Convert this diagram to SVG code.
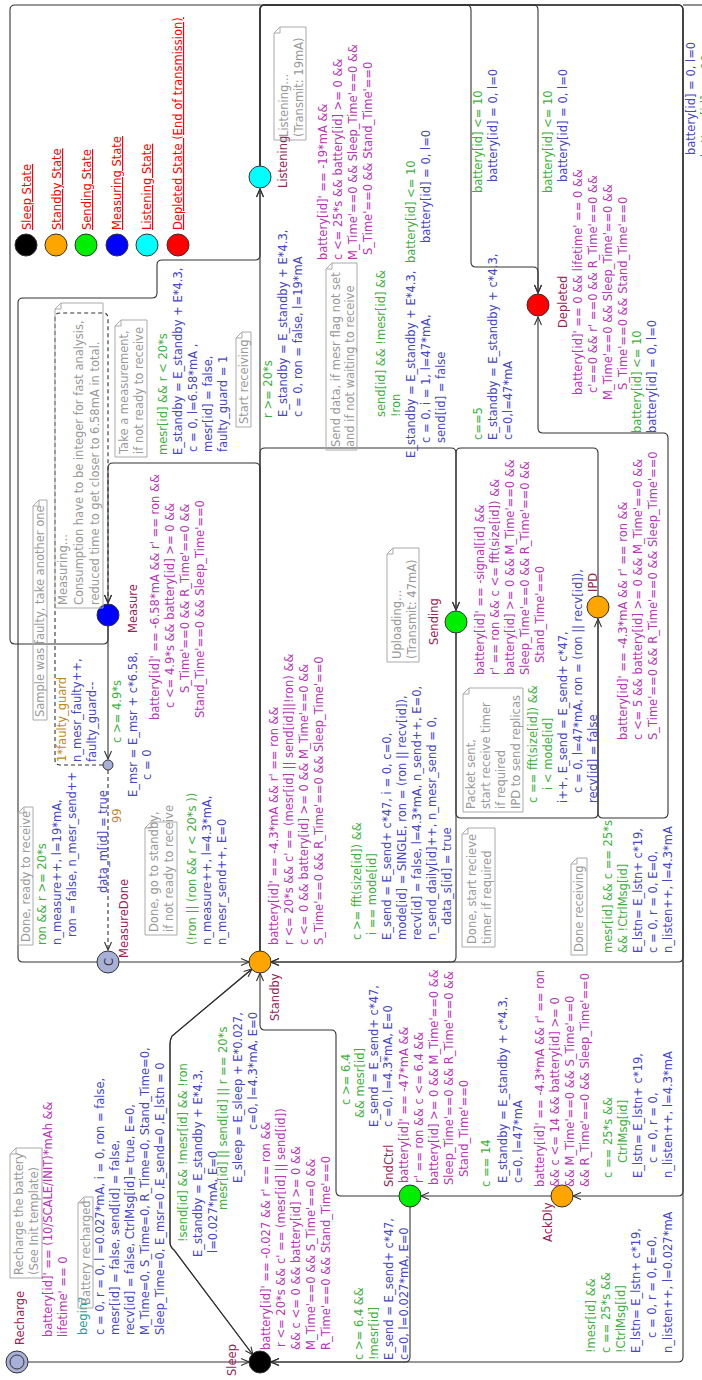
<svg xmlns="http://www.w3.org/2000/svg" width="702" height="1380" viewBox="0 0 702 1380">
<style>
text { font-family: "DejaVu Sans", sans-serif; font-size: 11.5px; }
.n { fill: #992255; }
.i { fill: #b835b8; }
.g { fill: #3cb03c; }
.u { fill: #4646c8; }
.s { fill: #22a0a0; }
.p { fill: #c08a20; }
.c { fill: #999999; }
.lg { fill: #ff0000; text-decoration: underline; }
.cb { fill: none; stroke: #aaaaaa; stroke-width: 1; }
.e { fill: none; stroke: #333333; stroke-width: 1.1; marker-end: url(#arr); }
.d { stroke-dasharray: 4 3; }
.loc { stroke: #333333; stroke-width: 1; }
</style>
<defs>
<marker id="arr" viewBox="0 0 10 10" refX="9" refY="5" markerWidth="10" markerHeight="10" markerUnits="userSpaceOnUse" orient="auto">
<path d="M1,1.5 L9,5 L1,8.5" fill="none" stroke="#333333" stroke-width="1.1"/>
</marker>
</defs>
<rect x="0" y="0" width="702" height="1380" fill="#ffffff"/>
<g transform="translate(0,1380) rotate(-90)">

<g id="connectors">
<path class="e" d="M18,28 L18,249"/>
<path class="e" d="M411,252 L344,172 Q340,170 336,170 L138,170 Q133,170 130,174 L25,253"/>
<path class="e" d="M25,253 L130,174 Q133,170 138,170 L336,170 Q340,170 344,172 L411,252"/>
<path class="e" d="M173,410 L23,410 Q18,410 18,405 L18,271"/>
<path class="e" d="M1214,260 L1370,260 Q1375,260 1375,265 L1375,678 Q1375,683 1370,683 L23,683 Q18,683 18,678 L18,271"/>
<path class="e" d="M1214,260 L1370,260 Q1375,260 1375,265 L1375,678 Q1375,683 1370,683 L189,683 Q184,683 184,678 L184,573"/>
<path class="e" d="M1214,260 L1370,260 Q1375,260 1375,265 L1375,678 Q1375,683 1370,683 L423,683 Q418,683 418,678 L418,271"/>
<path class="e" d="M1214,260 L1370,260 Q1375,260 1375,265 L1375,466 Q1375,471 1370,471 L1118,471 Q1113,471 1113,476 L1113,533 Q1113,538 1108,538 L1087,538"/>
<path class="e" d="M754,108 L741,108 Q736,108 736,103 L736,15 Q736,10 741,10 L1370,10 Q1375,10 1375,15 L1375,533 Q1375,538 1370,538 L1087,538"/>
<path fill="none" stroke="#333333" stroke-width="1.1" d="M1375,683 L1375,702"/>
<path class="e" d="M762,598 L567,598 Q562,598 562,603 L562,663 Q562,668 567,668 L942,668 Q947,668 947,663 L947,543 Q947,538 952,538 L1063,538"/>
<path class="e" d="M747,456 L567,456 Q562,456 562,461 L562,593 Q562,598 567,598 L761,598"/>
<path class="e" d="M747,456 L423,456 Q418,456 418,451 L418,271"/>
<path class="e" d="M784,598 L927,598 Q932,598 932,593 L932,461 Q932,456 927,456 L770,456"/>
<path class="e" d="M429,260 L927,260 Q932,260 932,265 L932,451 Q932,456 927,456 L770,456"/>
<path class="e" d="M429,260 L912,260 Q917,260 917,255 L917,113 Q917,108 912,108 L777,108"/>
<path class="e" d="M429,260 L1191,260"/>
<path class="e" d="M418,97 L418,23 Q418,18 423,18 L1077,18 Q1082,18 1082,23 L1082,152 Q1082,157 1087,157 L1115,157 Q1120,157 1120,162 L1120,255 Q1120,260 1125,260 L1191,260"/>
<path class="e" d="M418,119 L418,249"/>
<path class="e" d="M754,108 L621,108"/>
<path class="e d" d="M615,103 L615,60 Q615,55 620,55 L1062,55 Q1067,55 1067,60 L1067,103 Q1067,108 1062,108 L777,108"/>
<path class="e d" d="M610,108 L430,108"/>
<path class="e" d="M184,551 L184,421"/>
<path class="e" d="M184,399 L184,341 Q184,336 189,336 L345,336 Q350,336 350,331 L350,265 Q350,260 355,260 L407,260"/>
</g>

<g id="legend">
<circle cx="1135" cy="26" r="11" fill="#000000" class="loc"/>
<circle cx="1135" cy="56" r="11" fill="#ffa500" class="loc"/>
<circle cx="1135" cy="86" r="11" fill="#00ee00" class="loc"/>
<circle cx="1135" cy="117" r="11" fill="#0000ff" class="loc"/>
<circle cx="1135" cy="147" r="11" fill="#00ffff" class="loc"/>
<circle cx="1135" cy="178" r="11" fill="#ff0000" class="loc"/>
<text class="lg" x="1150" y="31">Sleep State</text>
<text class="lg" x="1150" y="61">Standby State</text>
<text class="lg" x="1150" y="91">Sending State</text>
<text class="lg" x="1150" y="121">Measuring State</text>
<text class="lg" x="1150" y="151">Listening State</text>
<text class="lg" x="1150" y="182">Depleted State (End of transmission)</text>
</g>

<g id="node-recharge">
<circle cx="18" cy="17" r="11" fill="#a8b0d8" class="loc"/>
<circle cx="18" cy="17" r="7" fill="none" class="loc"/>
<text class="n" x="35" y="24">Recharge</text>
<path class="cb" d="M102,10 L226,10 L232,16 L232,42 L102,42 Z M226,10 L226,16 L232,16"/>
<text class="c" x="105" y="23">Recharge the battery</text>
<text class="c" x="105" y="38">(See Init template)</text>
<text class="i" x="43" y="52">battery[id]' == (10/SCALE/INIT)*mAh &amp;&amp;</text>
<text class="i" x="43" y="67">lifetime' == 0</text>
</g>

<g id="node-sleep">
<circle cx="18" cy="260" r="11" fill="#000000" class="loc"/>
<text class="n" x="4" y="236">Sleep</text>
<text class="i" x="30" y="270">battery[id]' == -0.027 &amp;&amp; r' == ron &amp;&amp;</text>
<text class="i" x="33" y="285">r &lt;= 20*s &amp;&amp; c' == (mesr[id] || send[id])</text>
<text class="i" x="30" y="300">&amp;&amp; c &lt;= 0 &amp;&amp; battery[id] &gt;= 0 &amp;&amp;</text>
<text class="i" x="30" y="315">M_Time'==0 &amp;&amp; S_Time'==0 &amp;&amp;</text>
<text class="i" x="30" y="330">R_Time'==0 &amp;&amp; Stand_Time'==0</text>
</g>

<g id="node-standby">
<circle cx="418" cy="260" r="11" fill="#ffa500" class="loc"/>
<text class="n" x="359" y="279">Standby</text>
<text class="i" x="435" y="278">battery[id]' == -4.3*mA &amp;&amp; r' == ron &amp;&amp;</text>
<text class="i" x="435" y="293">r &lt;= 20*s &amp;&amp; c' == (mesr[id] || send[id]||!ron) &amp;&amp;</text>
<text class="i" x="435" y="308">c &lt;= 0 &amp;&amp; battery[id] &gt;= 0 &amp;&amp; M_Time'==0 &amp;&amp;</text>
<text class="i" x="435" y="323">S_Time'==0 &amp;&amp; R_Time'==0 &amp;&amp; Sleep_Time'==0</text>
</g>

<g id="node-sndctrl">
<circle cx="184" cy="410" r="11" fill="#00ee00" class="loc"/>
<text class="n" x="193" y="393">SndCtrl</text>
<text class="i" x="197" y="408">battery[id]' == -47*mA &amp;&amp;</text>
<text class="i" x="197" y="423">r' == ron &amp;&amp; c &lt;= 6.4 &amp;&amp;</text>
<text class="i" x="195" y="438">battery[id] &gt;= 0 &amp;&amp; M_Time'==0 &amp;&amp;</text>
<text class="i" x="195" y="453">Sleep_Time'==0 &amp;&amp; R_Time'==0 &amp;&amp;</text>
<text class="i" x="203" y="468">Stand_Time'==0</text>
</g>

<g id="node-ackdly">
<circle cx="184" cy="562" r="11" fill="#ffa500" class="loc"/>
<text class="n" x="138" y="552">AckDly</text>
<text class="i" x="193" y="544">battery[id]' == -4.3*mA &amp;&amp; r' == ron</text>
<text class="i" x="193" y="559">&amp;&amp; c &lt;= 14 &amp;&amp; battery[id] &gt;= 0</text>
<text class="i" x="193" y="574">&amp;&amp; M_Time'==0 &amp;&amp; S_Time'==0</text>
<text class="i" x="193" y="589">&amp;&amp; R_Time'==0 &amp;&amp; Sleep_Time'==0</text>
</g>

<g id="node-sending">
<circle cx="758" cy="456" r="11" fill="#00ee00" class="loc"/>
<text class="n" x="735" y="438">Sending</text>
<path class="cb" d="M718,387 L826,387 L832,393 L832,419 L718,419 Z M826,387 L826,393 L832,393"/>
<text class="c" x="721" y="401">Uploading...</text>
<text class="c" x="721" y="416">(Transmit: 47mA)</text>
<text class="i" x="705" y="484">battery[id]' == -signal[id] &amp;&amp;</text>
<text class="i" x="705" y="499">r' == ron &amp;&amp; c &lt;= fft(size[id]) &amp;&amp;</text>
<text class="i" x="705" y="514">battery[id] &gt;= 0 &amp;&amp; M_Time'==0 &amp;&amp;</text>
<text class="i" x="705" y="529">Sleep_Time'==0 &amp;&amp; R_Time'==0 &amp;&amp;</text>
<text class="i" x="717" y="544">Stand_Time'==0</text>
</g>

<g id="node-ipd">
<circle cx="773" cy="598" r="11" fill="#ffa500" class="loc"/>
<text class="n" x="788" y="597">IPD</text>
<text class="i" x="640" y="627">battery[id]' == -4.3*mA &amp;&amp; r' == ron &amp;&amp;</text>
<text class="i" x="640" y="642">c &lt;= 5 &amp;&amp; battery[id] &gt;= 0 &amp;&amp; M_Time'==0 &amp;&amp;</text>
<text class="i" x="640" y="657">S_Time'==0 &amp;&amp; R_Time'==0 &amp;&amp; Sleep_Time'==0</text>
</g>

<g id="node-measure">
<circle cx="765" cy="108" r="11" fill="#0000ff" class="loc"/>
<text class="n" x="747" y="137">Measure</text>
<text class="i" x="660" y="159">battery[id]' == -6.58*mA &amp;&amp; r' == ron &amp;&amp;</text>
<text class="i" x="672" y="174">c &lt;= 4.9*s &amp;&amp; battery[id] &gt;= 0  &amp;&amp;</text>
<text class="i" x="687" y="189">S_Time'==0 &amp;&amp;  R_Time'==0 &amp;&amp;</text>
<text class="i" x="662" y="204">Stand_Time'==0 &amp;&amp; Sleep_Time'==0</text>
<path class="cb" d="M772,55 L1071,55 L1077,61 L1077,103 L772,103 Z M1071,55 L1071,61 L1077,61"/>
<text class="c" x="775" y="67">Measuring...</text>
<text class="c" x="775" y="83">Consumption have to be integer for fast analysis,</text>
<text class="c" x="775" y="99">reduced time to get closer to 6.58mA in total.</text>
</g>

<g id="node-branch">
<circle cx="615" cy="108" r="5" fill="#a8b0d8" class="loc"/>
</g>

<g id="node-measuredone">
<circle cx="418" cy="108" r="11" fill="#a8b0d8" class="loc"/>
<text x="418" y="112.5" text-anchor="middle" fill="#333333">C</text>
<text class="n" x="422" y="128">MeasureDone</text>
</g>

<g id="node-listening">
<circle cx="1203" cy="260" r="11" fill="#00ffff" class="loc"/>
<text class="n" x="1192" y="287">Listening</text>
<path class="cb" d="M1240,274 L1347,274 L1353,280 L1353,306 L1240,306 Z M1347,274 L1347,280 L1353,280"/>
<text class="c" x="1243" y="288">Listening...</text>
<text class="c" x="1243" y="303">(Transmit: 19mA)</text>
<text class="i" x="1120" y="327">battery[id]' == -19*mA &amp;&amp;</text>
<text class="i" x="1120" y="342">c &lt;= 25*s &amp;&amp; battery[id] &gt;= 0 &amp;&amp;</text>
<text class="i" x="1120" y="357">M_Time'==0 &amp;&amp;  Sleep_Time'==0 &amp;&amp;</text>
<text class="i" x="1125" y="372">S_Time'==0 &amp;&amp; Stand_Time'==0</text>
</g>

<g id="node-depleted">
<circle cx="1075" cy="538" r="11" fill="#ff0000" class="loc"/>
<text class="n" x="1052" y="567">Depleted</text>
<text class="i" x="985" y="582">battery[id]' == 0 &amp;&amp; lifetime' == 0 &amp;&amp;</text>
<text class="i" x="987" y="597">c'==0 &amp;&amp; r' ==0 &amp;&amp; R_Time'==0 &amp;&amp;</text>
<text class="i" x="980" y="612">M_Time'==0 &amp;&amp;  Sleep_Time'==0 &amp;&amp;</text>
<text class="i" x="990" y="627">S_Time'==0 &amp;&amp; Stand_Time'==0</text>
</g>

<g id="edge-labels">
<text class="s" x="45" y="87">begin?</text>
<path class="cb" d="M72,78 L177,78 L183,84 L183,93 L72,93 Z M177,78 L177,84 L183,84"/>
<text class="c" x="75" y="90">Battery recharged</text>
<text class="u" x="45" y="104">c = 0, r = 0, l =0.027*mA, i = 0, ron = false,</text>
<text class="u" x="45" y="119">mesr[id] = false, send[id] = false,</text>
<text class="u" x="45" y="134">recv[id] = false, CtrlMsg[id]= true, E=0,</text>
<text class="u" x="45" y="149">M_Time=0, S_Time=0, R_Time=0, Stand_Time=0,</text>
<text class="u" x="45" y="164">Sleep_Time=0, E_msr=0 ,E_send=0 ,E_lstn = 0</text>

<text class="g" x="138" y="187">!send[id] &amp;&amp; !mesr[id] &amp;&amp; !ron</text>
<text class="u" x="123" y="202">E_standby = E_standby + E*4.3,</text>
<text class="u" x="127" y="217">l=0.027*mA, E=0</text>
<text class="g" x="170" y="227">mesr[id] || send[id] || r == 20*s</text>
<text class="u" x="197" y="242">E_sleep = E_sleep + E*0.027,</text>
<text class="u" x="250" y="257">c=0, l=4.3*mA, E=0</text>

<text class="g" x="275" y="350">c &gt;= 6.4</text>
<text class="g" x="262" y="364">&amp;&amp; mesr[id]</text>
<text class="u" x="253" y="378">E_send = E_send+ c*47,</text>
<text class="u" x="253" y="392">c =0, l=4.3*mA, E=0</text>

<text class="g" x="20" y="363">c &gt;= 6.4 &amp;&amp;</text>
<text class="g" x="20" y="378">!mesr[id]</text>
<text class="u" x="20" y="393">E_send = E_send+ c*47,</text>
<text class="u" x="20" y="408">c=0, l=0.027*mA, E=0</text>

<text class="g" x="193" y="490">c == 14</text>
<text class="u" x="197" y="507">E_standby = E_standby + c*4.3,</text>
<text class="u" x="197" y="522">c=0, l=47*mA</text>

<text class="g" x="202" y="612">c == 25*s &amp;&amp;</text>
<text class="g" x="217" y="627">CtrlMsg[id]</text>
<text class="u" x="202" y="642">E_lstn= E_lstn+ c*19,</text>
<text class="u" x="217" y="657">c = 0, r = 0,</text>
<text class="u" x="202" y="672">n_listen++, l=4.3*mA</text>

<text class="g" x="27" y="595">!mesr[id] &amp;&amp;</text>
<text class="g" x="27" y="610">c == 25*s &amp;&amp;</text>
<text class="g" x="27" y="625">!CtrlMsg[id]</text>
<text class="u" x="27" y="640">E_lstn= E_lstn+ c*19,</text>
<text class="u" x="42" y="656">c = 0, r = 0, E=0,</text>
<text class="u" x="27" y="672">n_listen++, l=0.027*mA</text>

<path class="cb" d="M425,571 L516,571 L522,577 L522,587 L425,587 Z M516,571 L516,577 L522,577"/>
<text class="c" x="428" y="583">Done receiving</text>
<text class="g" x="427" y="612">mesr[id] &amp;&amp; c == 25*s</text>
<text class="g" x="427" y="627">&amp;&amp; !CtrlMsg[id]</text>
<text class="u" x="427" y="642">E_lstn= E_lstn+ c*19,</text>
<text class="u" x="427" y="657">c = 0, r = 0, E=0,</text>
<text class="u" x="427" y="672">n_listen++, l=4.3*mA</text>

<path class="cb" d="M433,462 L546,462 L552,468 L552,495 L433,495 Z M546,462 L546,468 L552,468"/>
<text class="c" x="436" y="476">Done, start recieve</text>
<text class="c" x="436" y="491">timer if required</text>
<text class="g" x="440" y="361">c &gt;= fft(size[id]) &amp;&amp;</text>
<text class="g" x="445" y="376">i == mode[id]</text>
<text class="u" x="440" y="391">E_send = E_send+ c*47, i = 0, c=0,</text>
<text class="u" x="440" y="406">mode[id] = SINGLE, ron = (ron || recv[id]),</text>
<text class="u" x="440" y="421">recv[id] = false, l=4.3*mA, n_send++, E=0,</text>
<text class="u" x="440" y="436">n_send_daily[id]++, n_mesr_send = 0,</text>
<text class="u" x="455" y="451">data_s[id] = true</text>

<path class="cb" d="M568,463 L686,463 L692,469 L692,523 L568,523 Z M686,463 L686,469 L692,469"/>
<text class="c" x="571" y="475">Packet sent,</text>
<text class="c" x="571" y="490">start receive timer</text>
<text class="c" x="571" y="505">if required</text>
<text class="c" x="571" y="520">IPD to send replicas</text>
<text class="g" x="577" y="537">c == fft(size[id]) &amp;&amp;</text>
<text class="g" x="590" y="552">i &lt; mode[id]</text>
<text class="u" x="577" y="567">i++, E_send = E_send+ c*47,</text>
<text class="u" x="587" y="582">c = 0, l=47*mA, ron = (ron || recv[id]),</text>
<text class="u" x="577" y="597">recv[id] = false</text>

<text class="g" x="940" y="482">c==5</text>
<text class="u" x="940" y="497">E_standby = E_standby + c*4.3,</text>
<text class="u" x="940" y="512">c=0,l=47*mA</text>

<text class="g" x="947" y="641">battery[id] &lt;= 10</text>
<text class="u" x="947" y="656">battery[id] = 0, l=0</text>
<text class="g" x="1187" y="552">battery[id] &lt;= 10</text>
<text class="u" x="1198" y="567">battery[id] = 0, l=0</text>
<text class="g" x="1187" y="482">battery[id] &lt;= 10</text>
<text class="u" x="1198" y="497">battery[id] = 0, l=0</text>
<text class="u" x="1225" y="695">battery[id] = 0, l=0</text>
<text class="g" x="1223" y="710">battery[id] &lt;= 10</text>
<text class="g" x="1117" y="415">battery[id] &lt;= 10</text>
<text class="u" x="1137" y="430">battery[id] = 0, l=0</text>

<path class="cb" d="M953,236 L1042,236 L1048,242 L1048,251 L953,251 Z M1042,236 L1042,242 L1048,242"/>
<text class="c" x="956" y="248">Start receiving</text>
<text class="g" x="962" y="272">r &gt;= 20*s</text>
<text class="u" x="963" y="287">E_standby = E_standby + E*4.3,</text>
<text class="u" x="963" y="302">c = 0, ron = false, l=19*mA</text>

<path class="cb" d="M930,326 L1111,326 L1117,332 L1117,357 L930,357 Z M1111,326 L1111,332 L1117,332"/>
<text class="c" x="933" y="340">Send data, if mesr flag not set</text>
<text class="c" x="933" y="354">and if not waiting to receive</text>
<text class="g" x="963" y="385">send[id] &amp;&amp; !mesr[id] &amp;&amp;</text>
<text class="g" x="963" y="400">!ron</text>
<text class="u" x="922" y="415">E_standby = E_standby + E*4.3,</text>
<text class="u" x="937" y="430">c = 0, i = 1, l=47*mA,</text>
<text class="u" x="937" y="445">send[id] = false</text>

<path class="cb" d="M923,115 L1054,115 L1060,121 L1060,147 L923,147 Z M1054,115 L1054,121 L1060,121"/>
<text class="c" x="926" y="128">Take a measurement,</text>
<text class="c" x="926" y="143">if not ready to receive</text>
<text class="g" x="925" y="167">mesr[id] &amp;&amp; r &lt; 20*s</text>
<text class="u" x="925" y="182">E_standby = E_standby + E*4.3,</text>
<text class="u" x="928" y="197">c = 0, l=6.58*mA ,</text>
<text class="u" x="928" y="212">mesr[id] = false,</text>
<text class="u" x="928" y="227">faulty_guard = 1</text>

<text class="g" x="637" y="121">c &gt;= 4.9*s</text>
<text class="u" x="583" y="137">E_msr = E_msr + c*6.58,</text>
<text class="u" x="600" y="151">c = 0</text>

<path class="cb" d="M660,33 L874,33 L880,39 L880,47 L660,47 Z M874,33 L874,39 L880,39"/>
<text class="c" x="663" y="44">Sample was faulty, take another one</text>
<text class="p" x="618" y="66">1*faulty_guard</text>
<text class="u" x="618" y="81">n_mesr_faulty++,</text>
<text class="u" x="618" y="96">faulty_guard--</text>

<text class="u" x="487" y="107">data_m[id] = true</text>
<text class="p" x="557" y="121">99</text>

<path class="cb" d="M445,145 L552,145 L558,151 L558,177 L445,177 Z M552,145 L552,151 L558,151"/>
<text class="c" x="448" y="158">Done, go to standby,</text>
<text class="c" x="448" y="173">if not ready to receive</text>
<text class="g" x="435" y="196">(!ron || (ron &amp;&amp; r &lt; 20*s ))</text>
<text class="u" x="435" y="211">n_measure++, l=4.3*mA,</text>
<text class="u" x="435" y="226">n_mesr_send++, E=0</text>

<path class="cb" d="M435,18 L567,18 L573,24 L573,33 L435,33 Z M567,18 L567,24 L573,24"/>
<text class="c" x="438" y="30">Done, ready to receive</text>
<text class="g" x="435" y="46">ron &amp;&amp; r &gt;= 20*s</text>
<text class="u" x="435" y="61">n_measure++, l=19*mA,</text>
<text class="u" x="443" y="76">ron = false, n_mesr_send++</text>
</g>

</g>
</svg>
